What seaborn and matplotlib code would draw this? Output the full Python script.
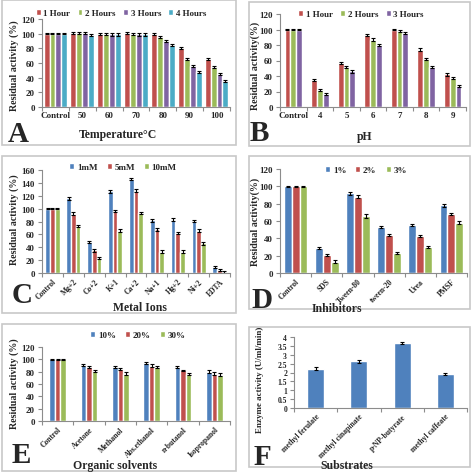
import numpy as np
import pandas as pd
import matplotlib
matplotlib.use('Agg')
import matplotlib.pyplot as plt
import seaborn as sns
from matplotlib.patches import Rectangle
from matplotlib.container import BarContainer

sns.set_theme(style='white')
plt.rcParams['font.family'] = ['Liberation Serif', 'DejaVu Serif']
plt.rcParams['font.weight'] = 'bold'
plt.rcParams['axes.labelweight'] = 'bold'

# ---------------- data ----------------
A_cats = ['Control', '50', '60', '70', '80', '90', '100']
A_series = ['1 Hour', '2 Hours', '3 Hours', '4 Hours']
A_h1 = [100, 101, 100, 101, 100, 80, 65]
A_h2 = [100, 101, 100, 100, 95, 66, 55]
A_h3 = [100, 101, 99, 99, 90, 56, 45]
A_h4 = [100, 98, 99, 99, 85, 48, 36]
A_err = [0.5, 1.5, 1.5, 1.5, 1.2, 1.5, 1.5]

B_cats = ['Control', '4', '5', '6', '7', '8', '9']
B_series = ['1 Hour', '2 Hours', '3 Hours']
B_h1 = [100, 35, 57, 93, 100, 74, 42]
B_h2 = [100, 22, 52, 87, 98, 62, 37]
B_h3 = [100, 17, 46, 80, 95, 52, 27]
B_err = [0.5, 1.5, 1.5, 1.5, 1.2, 1.5, 1.5]

C_cats = ['Control', 'Mg+2', 'Co+2', 'K+1', 'Ca+2', 'Na+1', 'Hg+2', 'Ni+2', 'EDTA']
C_series = ['1mM', '5mM', '10mM']
C_1 = [100, 116, 48, 127, 146, 82, 83, 81, 10]
C_5 = [100, 92, 35, 96, 128, 68, 62, 66, 5]
C_10 = [100, 73, 23, 66, 93, 33, 33, 46, 2]
C_err = [0.5, 2, 2, 2, 2, 2, 2, 2, 1.5]

D_cats = ['Control', 'SDS', 'Tween-80', 'tween-20', 'Urea', 'PMSF']
D_series = ['1%', '2%', '3%']
D_1 = [100, 29, 92, 53, 55, 78]
D_2 = [100, 21, 88, 44, 43, 68]
D_3 = [100, 13, 66, 23, 30, 58]
D_err = [0.5, 1.5, 2, 1.2, 1.2, 1.5]

E_cats = ['Control', 'Acetone', 'Methanol', 'Abs.ethanol', 'n-butanol', 'Isopropanol']
E_series = ['10%', '20%', '30%']
E_10 = [100, 91, 88, 94, 88, 80]
E_20 = [100, 88, 84, 90, 82, 77]
E_30 = [100, 81, 77, 88, 76, 75]
E_err = [0.5, 1.5, 2, 2, 1.5, 2.5]

F_cats = ['methyl ferulate', 'methyl cinapinate', 'p-NP-butyrate', 'methyl caffeate']
F_vals = [2.22, 2.62, 3.65, 1.93]
F_err = [0.08, 0.06, 0.05, 0.06]

BLUE, RED, GREEN, PURPLE, CYAN = '#4F81BD', '#C0504D', '#9BBB59', '#8064A2', '#4BACC6'

W, H = 474, 477
fig = plt.figure(figsize=(W / 100, H / 100), dpi=100)


def fx(x):
    return x / W


def fy(y):
    return 1 - y / H


def add_box(l, t, r, b):
    fig.patches.append(Rectangle((fx(l), fy(b)), fx(r - l), (b - t) / H,
                                 transform=fig.transFigure, fill=False,
                                 edgecolor='#C8C8C8', linewidth=1.2))


def panel(box, axpx, cats, names, vals, err, colors, ylim, yticks, ylabel, ylab_xy,
          xlabel, xlab_xy, letter, let_xy, leg_xy, rot, width, ytl=None, ylab_fs=7.2,
          ytick_fs=6.5, leg_sp=1.0):
    add_box(*box)
    l, t, r, b = axpx
    ax = fig.add_axes([fx(l), fy(b), fx(r - l), (b - t) / H])
    rows = []
    for n, vs in zip(names, vals):
        for c, v in zip(cats, vs):
            rows.append({'cat': c, 'series': n, 'val': v})
    df = pd.DataFrame(rows)
    multi = len(names) > 1
    if multi:
        sns.barplot(data=df, x='cat', y='val', hue='series', palette=colors,
                    errorbar=None, width=width, ax=ax, saturation=1)
    else:
        sns.barplot(data=df, x='cat', y='val', color=colors[0], errorbar=None,
                    width=width, ax=ax, saturation=1)
    bars = [c for c in list(ax.containers) if isinstance(c, BarContainer)]
    for cont in bars:
        xs = [p.get_x() + p.get_width() / 2 for p in cont]
        ys = [p.get_height() for p in cont]
        ax.errorbar(xs, ys, yerr=err, fmt='none', ecolor='black',
                    elinewidth=0.8, capsize=1.6, capthick=0.8)
    ax.set_ylim(*ylim)
    ax.set_yticks(yticks)
    if ytl is not None:
        ax.set_yticklabels(ytl)
    ax.set_xlim(-0.5, len(cats) - 0.5)
    ax.set_xlabel('')
    ax.set_ylabel('')
    for s in ['top', 'right']:
        ax.spines[s].set_visible(False)
    for s in ['left', 'bottom']:
        ax.spines[s].set_color('#8C8C8C')
        ax.spines[s].set_linewidth(0.8)
    ax.set_xticks(np.arange(-0.5, len(cats)), minor=True)
    ax.tick_params(axis='x', which='major', length=0, pad=3, labelsize=6.5)
    ax.tick_params(axis='x', which='minor', length=3, color='#8C8C8C', width=0.8,
                   direction='out', bottom=True)
    ax.tick_params(axis='y', length=3, color='#8C8C8C', width=0.8, direction='out', left=True,
                   labelsize=ytick_fs, pad=2)
    if rot:
        for lab in ax.get_xticklabels():
            lab.set_rotation(45)
            lab.set_ha('right')
            lab.set_rotation_mode('anchor')
            lab.set_fontsize(5.5)
    for lab in ax.get_xticklabels() + ax.get_yticklabels():
        lab.set_fontweight('bold')
    fig.text(fx(ylab_xy[0]), fy(ylab_xy[1]), ylabel, rotation=90, ha='center', va='center',
             fontsize=ylab_fs, fontweight='bold')
    fig.text(fx(xlab_xy[0]), fy(xlab_xy[1]), xlabel, ha='center', va='center',
             fontsize=8.5, fontweight='bold')
    fig.text(fx(let_xy[0]), fy(let_xy[1]), letter, ha='left', va='baseline',
             fontsize=21, fontweight='bold')
    if multi:
        ax.legend(loc='center', bbox_to_anchor=(fx(leg_xy[0]), fy(leg_xy[1])),
                  bbox_transform=fig.transFigure, ncol=len(names), frameon=False,
                  handlelength=0.55, handleheight=0.55, handletextpad=0.3,
                  columnspacing=leg_sp, prop={'size': 6.5, 'weight': 'bold'})
    return ax


panel((2, 1, 236, 146), (42, 20, 230, 108), A_cats, A_series, [A_h1, A_h2, A_h3, A_h4], A_err,
      [RED, GREEN, PURPLE, CYAN], (0, 120), range(0, 121, 20),
      'Residual activity (%)', (14, 66), 'Temperature°C', (118, 135), 'A', (8, 142), (121, 14),
      False, 0.88, leg_sp=0.8)

panel((249, 3, 470, 147), (280, 15, 466, 108), B_cats, B_series, [B_h1, B_h2, B_h3], B_err,
      [RED, GREEN, PURPLE], (0, 120), range(0, 121, 20),
      'Residual activity(%)', (255, 66), 'pH', (365, 137), 'B', (250, 141), (361, 15),
      False, 0.66, leg_sp=0.8)

panel((2, 157, 236, 314), (42, 171, 230, 274), C_cats, C_series, [C_1, C_5, C_10], C_err,
      [BLUE, RED, GREEN], (0, 160), range(0, 161, 20),
      'Residual activity (%)', (14, 220), 'Metal Ions', (140, 308), 'C', (12, 303), (123, 168),
      True, 0.68)

panel((249, 157, 470, 310), (280, 170, 467, 274), D_cats, D_series, [D_1, D_2, D_3], D_err,
      [BLUE, RED, GREEN], (0, 120), range(0, 121, 20),
      'Residual activity(%)', (255, 222), 'Inhibitors', (337, 309), 'D', (251, 308), (366, 171),
      True, 0.76)

panel((2, 325, 236, 472), (42, 348, 230, 422), E_cats, E_series, [E_10, E_20, E_30], E_err,
      [BLUE, RED, GREEN], (0, 120), range(0, 121, 20),
      'Residual activity (%)', (14, 384), 'Organic solvents', (115, 466), 'E', (12, 463), (138, 336),
      True, 0.54)

panel((249, 328, 470, 468), (294, 338, 467, 409), F_cats, ['Enzyme'], [F_vals], F_err,
      [BLUE], (0, 4), np.arange(0, 4.01, 0.5),
      'Enzyme activity (U/ml/min)', (260, 380), 'Substrates', (347, 466), 'F', (254, 465), (0, 0),
      True, 0.39, ytl=['0', '0.5', '1', '1.5', '2', '2.5', '3', '3.5', '4'], ylab_fs=6.5,
      ytick_fs=5.5)

fig.savefig('out.png', dpi=100)
